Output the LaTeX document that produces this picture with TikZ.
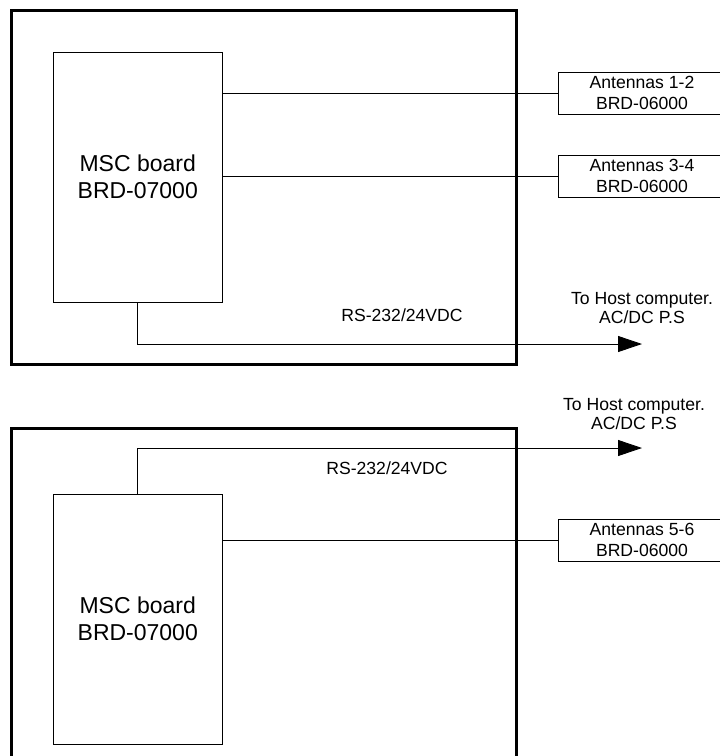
\documentclass[tikz,border=0pt]{standalone}
\usepackage{fontspec}
\setmainfont{Liberation Sans}
\usetikzlibrary{arrows.meta}
\tikzset{
  outerbox/.style={draw=black, line width=3pt, inner sep=0pt, outer sep=0pt},
  boardbox/.style={draw=black, line width=0.9pt, inner sep=0pt, outer sep=0pt,
    minimum width=168.5pt, minimum height=250pt, align=center,
    font=\fontsize{23}{27}\selectfont},
  antbox/.style={draw=black, line width=0.9pt, inner sep=0pt, outer sep=0pt,
    minimum width=168pt, minimum height=42pt, align=center,
    font=\fontsize{17.6}{20.5}\selectfont},
  lbl/.style={inner sep=0pt, align=center, font=\fontsize{17.6}{18.5}\selectfont},
  wire/.style={draw=black, line width=0.9pt},
  buswire/.style={draw=black, line width=0.9pt, -{Triangle[length=24pt,width=16pt]}}
}
\begin{document}
\begin{tikzpicture}[x=1pt,y=-1pt]
  \clip (0,0) rectangle (720,756);
  \fill[white] (0,0) rectangle (720,756);

  % ---------- upper assembly ----------
  \node[outerbox, minimum width=505pt, minimum height=354pt] (outer1) at (263.5,187) {};
  \node[boardbox] (msc1) at (137.75,177) {MSC board\\BRD-07000};
  \node[antbox] (ant12) at (642,93) {Antennas 1-2\\BRD-06000};
  \node[antbox] (ant34) at (642,176) {Antennas 3-4\\BRD-06000};
  \coordinate (tip1) at (642,344);
  \node[lbl] (host1) at (642,308) {To Host computer.\\AC/DC P.S};
  \node[lbl] (rs1) at (402,315) {RS-232/24VDC};

  \draw[wire] (msc1.east |- ant12.west) -- (ant12.west);
  \draw[wire] (msc1.east |- ant34.west) -- (ant34.west);
  \draw[buswire] (msc1.south) |- (tip1);

  % ---------- lower assembly ----------
  \node[outerbox, minimum width=505pt, minimum height=352pt] (outer2) at (263.5,604) {};
  \node[boardbox] (msc2) at (137.75,619) {MSC board\\BRD-07000};
  \node[antbox] (ant56) at (642,540) {Antennas 5-6\\BRD-06000};
  \coordinate (tip2) at (642,448);
  \node[lbl] (host2) at (634,414) {To Host computer.\\AC/DC P.S};
  \node[lbl] (rs2) at (387,468) {RS-232/24VDC};

  \draw[wire] (msc2.east |- ant56.west) -- (ant56.west);
  \draw[buswire] (msc2.north) |- (tip2);
\end{tikzpicture}
\end{document}
